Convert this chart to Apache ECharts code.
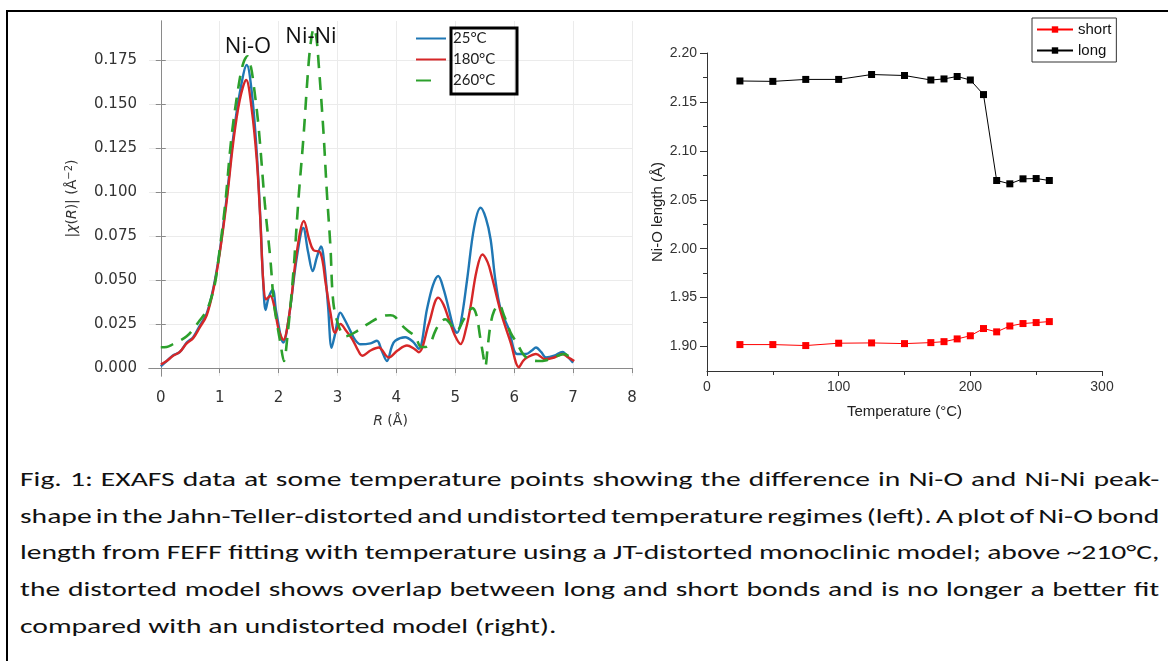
<!DOCTYPE html>
<html>
<head>
<meta charset="utf-8">
<script src="https://cdn.jsdelivr.net/npm/echarts@6/dist/echarts.min.js"></script>
<style>
  html, body { margin: 0; padding: 0; background: #fff; }
  #page { position: relative; width: 1168px; height: 661px; overflow: hidden; }
  #frame { position: absolute; left: 6px; top: 10px; width: 1170px; height: 660px;
    border-top: 2px solid #000; border-left: 2px solid #000; }
  #chart { position: absolute; left: 0; top: 0; width: 1168px; height: 440px; }
  /* caption in the reference is horizontally stretched, so scale it the same way */
  #caption { position: absolute; left: 20px; top: 461px; width: 808px;
    transform: scaleX(1.41); transform-origin: 0 0;
    font-family: Carlito, Lato, sans-serif; font-size: 21px; color: #111; }
  .ln { height: 36.7px; line-height: 36.7px; white-space: nowrap; word-spacing: -4px;
    text-align: justify; text-align-last: justify; }
  .ln.last { text-align-last: left; word-spacing: 0; }
</style>
</head>
<body>
<div id="page">
  <div id="frame"></div>
  <div id="chart"></div>
  <div id="caption">
    <div class="ln">Fig. 1: EXAFS data at some temperature points showing the difference in Ni-O and Ni-Ni peak-</div>
    <div class="ln">shape in the Jahn-Teller-distorted and undistorted temperature regimes (left). A plot of Ni-O bond</div>
    <div class="ln">length from FEFF fitting with temperature using a JT-distorted monoclinic model; above ~210°C,</div>
    <div class="ln">the distorted model shows overlap between long and short bonds and is no longer a better fit</div>
    <div class="ln last">compared with an undistorted model (right).</div>
  </div>
</div>
<script>
// Left panel: |chi(R)| vs R, one [R, value] pair per point
const chi25 = [
  [0, 0.001], [0.1, 0.004], [0.2, 0.007], [0.32, 0.009], [0.44, 0.0145], [0.55, 0.0175],
  [0.66, 0.024], [0.78, 0.031], [0.89, 0.045], [1.0, 0.066], [1.12, 0.097], [1.23, 0.131],
  [1.34, 0.156], [1.46, 0.172], [1.55, 0.155], [1.63, 0.122], [1.69, 0.085], [1.74, 0.048],
  [1.78, 0.033], [1.83, 0.040], [1.9, 0.0445], [1.96, 0.032], [2.08, 0.0145], [2.18, 0.030],
  [2.31, 0.063], [2.42, 0.0795], [2.5, 0.066], [2.58, 0.055], [2.65, 0.063], [2.72, 0.069],
  [2.78, 0.058], [2.84, 0.035], [2.9, 0.0115], [2.95, 0.018], [3.05, 0.0315], [3.13, 0.027],
  [3.22, 0.021], [3.3, 0.016], [3.39, 0.0135], [3.56, 0.014], [3.67, 0.0155], [3.75, 0.010],
  [3.84, 0.004], [3.92, 0.012], [3.98, 0.0155], [4.15, 0.0175], [4.28, 0.015], [4.38, 0.011],
  [4.52, 0.0335], [4.62, 0.047], [4.71, 0.0523], [4.8, 0.045], [4.89, 0.0334], [4.97, 0.023],
  [5.03, 0.020], [5.1, 0.027], [5.2, 0.050], [5.32, 0.080], [5.43, 0.091], [5.52, 0.085],
  [5.6, 0.073], [5.68, 0.050], [5.77, 0.0334], [5.91, 0.022], [6.05, 0.008], [6.2, 0.008],
  [6.3, 0.010], [6.37, 0.0117], [6.46, 0.009], [6.54, 0.006], [6.68, 0.007], [6.82, 0.0092],
  [6.92, 0.006], [7.0, 0.003]
];
const chi180 = [
  [0, 0.002], [0.1, 0.004], [0.21, 0.007], [0.32, 0.009], [0.44, 0.014], [0.55, 0.017],
  [0.66, 0.023], [0.78, 0.030], [0.89, 0.044], [1.0, 0.065], [1.12, 0.095], [1.23, 0.128],
  [1.34, 0.152], [1.45, 0.1635], [1.54, 0.148], [1.63, 0.118], [1.69, 0.084], [1.74, 0.049],
  [1.79, 0.039], [1.86, 0.041], [1.92, 0.036], [2.0, 0.022], [2.08, 0.016], [2.18, 0.030],
  [2.31, 0.066], [2.43, 0.0835], [2.52, 0.073], [2.59, 0.067], [2.71, 0.0655], [2.8, 0.048],
  [2.88, 0.0315], [2.96, 0.020], [3.05, 0.025], [3.15, 0.021], [3.25, 0.0165], [3.35, 0.010],
  [3.42, 0.007], [3.56, 0.010], [3.7, 0.0117], [3.87, 0.006], [4.02, 0.010], [4.18, 0.0128],
  [4.3, 0.011], [4.38, 0.009], [4.55, 0.025], [4.71, 0.040], [4.8, 0.036], [4.89, 0.0277],
  [5.0, 0.018], [5.09, 0.0136], [5.18, 0.022], [5.26, 0.035], [5.36, 0.055], [5.46, 0.0645],
  [5.55, 0.060], [5.62, 0.052], [5.77, 0.032], [5.94, 0.0145], [6.08, 0.0005], [6.15, 0.004],
  [6.22, 0.006], [6.37, 0.008], [6.53, 0.005], [6.68, 0.006], [6.82, 0.008], [6.92, 0.006],
  [7.02, 0.004]
];
const chi260 = [
  [0, 0.0118], [0.1, 0.012], [0.21, 0.0136], [0.32, 0.0155], [0.44, 0.018], [0.55, 0.022],
  [0.66, 0.027], [0.75, 0.031], [0.83, 0.037], [0.92, 0.048], [0.98, 0.062], [1.09, 0.092],
  [1.2, 0.131], [1.32, 0.160], [1.4, 0.173], [1.47, 0.177], [1.53, 0.171], [1.58, 0.160],
  [1.66, 0.137], [1.77, 0.092], [1.86, 0.062], [1.92, 0.037], [1.98, 0.024], [2.03, 0.0145],
  [2.09, 0.004], [2.15, 0.018], [2.25, 0.054], [2.34, 0.097], [2.42, 0.13], [2.51, 0.173],
  [2.56, 0.188], [2.6, 0.193], [2.64, 0.188], [2.68, 0.173], [2.76, 0.135], [2.82, 0.0995],
  [2.88, 0.069], [2.93, 0.037], [3.02, 0.024], [3.13, 0.018], [3.23, 0.019], [3.33, 0.021],
  [3.56, 0.026], [3.78, 0.0296], [3.9, 0.030], [3.98, 0.029], [4.07, 0.025], [4.2, 0.021],
  [4.32, 0.018], [4.42, 0.012], [4.5, 0.012], [4.58, 0.0145], [4.66, 0.021], [4.75, 0.026],
  [4.83, 0.0277], [4.92, 0.025], [5.02, 0.021], [5.15, 0.028], [5.29, 0.034], [5.36, 0.030],
  [5.42, 0.018], [5.47, 0.008], [5.51, 0.001], [5.55, 0.012], [5.6, 0.025], [5.66, 0.0325],
  [5.74, 0.036], [5.83, 0.0296], [5.94, 0.020], [6.05, 0.014], [6.15, 0.008], [6.25, 0.005],
  [6.4, 0.004], [6.55, 0.0045], [6.7, 0.0065], [6.85, 0.008], [7.0, 0.004]
];
const chiTicks = [0, 0.025, 0.05, 0.075, 0.1, 0.125, 0.15, 0.175];
const rTicks = [0, 1, 2, 3, 4, 5, 6, 7, 8];

// Right panel: Ni-O bond lengths vs temperature
const temps = [25, 50, 75, 100, 125, 150, 170, 180, 190, 200, 210, 220, 230, 240, 250, 260];
const shortBond = [1.902, 1.902, 1.901, 1.9034, 1.9037, 1.903, 1.904, 1.905, 1.9078, 1.911,
  1.9184, 1.915, 1.921, 1.9235, 1.9245, 1.9255];
const longBond = [2.1714, 2.171, 2.173, 2.173, 2.178, 2.177, 2.1724, 2.1735, 2.176, 2.1724,
  2.1575, 2.0697, 2.0663, 2.0714, 2.0717, 2.0697];
const lenTicks = [1.9, 1.95, 2.0, 2.05, 2.1, 2.15, 2.2];
const lenMinorTicks = [1.925, 1.975, 2.025, 2.075, 2.125, 2.175];

const chart = echarts.init(document.getElementById("chart"));

const grey = "#8a8a8a";
const mpl = "DejaVu Sans";
const origin = "Liberation Sans";

const option = {
  animation: false,
  grid: [
    { left: 149, top: 21, width: 483, height: 355 },
    { left: 707, top: 53, width: 395, height: 318 },
  ],
  xAxis: [
    {
      gridIndex: 0, type: "value", min: -0.2, max: 8, position: "bottom",
      name: "{i|R} (Å)", nameLocation: "middle", nameGap: 38,
      nameTextStyle: {
        fontFamily: mpl, fontSize: 14, color: "#333",
        rich: { i: { fontFamily: mpl, fontSize: 14, fontStyle: "italic", color: "#333" } },
      },
      axisLine: { lineStyle: { color: grey, width: 1 } },
      axisTick: { customValues: rTicks, length: 5, lineStyle: { color: grey } },
      axisLabel: { customValues: rTicks, margin: 15, fontFamily: mpl, fontSize: 15, color: "#333" },
      splitLine: { show: true, lineStyle: { color: "#ebebeb", width: 1 } },
    },
    {
      gridIndex: 0, type: "value", min: -0.2, max: 8, position: "top",
      axisLine: { lineStyle: { color: grey, width: 1 } },
      axisTick: { show: false }, axisLabel: { show: false }, splitLine: { show: false },
    },
    {
      gridIndex: 1, type: "value", min: 0, max: 300, interval: 100, position: "bottom",
      name: "Temperature (°C)", nameLocation: "middle", nameGap: 33,
      nameTextStyle: { fontFamily: origin, fontSize: 15, color: "#222" },
      axisLine: { onZero: false, lineStyle: { color: "#333", width: 1 } },
      axisTick: { length: 5, lineStyle: { color: "#333" } },
      minorTick: { show: true, splitNumber: 2, length: 4, lineStyle: { color: "#333" } },
      axisLabel: { margin: 9, fontFamily: origin, fontSize: 14, color: "#333" },
      splitLine: { show: false },
    },
  ],
  yAxis: [
    {
      gridIndex: 0, type: "value", min: -0.0045, max: 0.197, position: "left",
      name: "|{i|χ}({i|R})| (Å{s|−2})", nameLocation: "middle", nameGap: 68, nameRotate: 90,
      nameTextStyle: {
        fontFamily: mpl, fontSize: 14, color: "#333",
        rich: {
          i: { fontFamily: mpl, fontSize: 14, fontStyle: "italic", color: "#333" },
          s: { fontFamily: mpl, fontSize: 10, color: "#333", padding: [0, 0, 7, 0] },
        },
      },
      axisLine: { show: true, lineStyle: { color: grey, width: 1 } },
      axisTick: { show: true, customValues: chiTicks, length: 5, lineStyle: { color: grey } },
      axisLabel: {
        customValues: chiTicks, margin: 12, fontFamily: mpl, fontSize: 15, color: "#333",
        formatter: (v) => v.toFixed(3),
      },
      splitLine: { show: true, lineStyle: { color: "#ebebeb", width: 1 } },
    },
    {
      gridIndex: 0, type: "value", min: -0.0045, max: 0.197, position: "right",
      axisLine: { show: true, lineStyle: { color: grey, width: 1 } },
      axisTick: { show: true, customValues: chiTicks, length: 5, lineStyle: { color: grey } },
      axisLabel: { show: false }, splitLine: { show: false },
    },
    {
      gridIndex: 1, type: "value", min: 1.875, max: 2.2, position: "left",
      name: "Ni-O length (Å)", nameLocation: "middle", nameGap: 41, nameRotate: 90,
      nameTextStyle: { fontFamily: origin, fontSize: 15, color: "#222" },
      axisLine: { show: true, onZero: false, lineStyle: { color: "#333", width: 1 } },
      axisTick: { show: true, customValues: lenTicks, length: 7, lineStyle: { color: "#333" } },
      axisLabel: {
        customValues: lenTicks, margin: 10, fontFamily: origin, fontSize: 14, color: "#333",
        formatter: (v) => v.toFixed(2),
      },
      splitLine: { show: false },
    },
    {
      gridIndex: 1, type: "value", min: 1.875, max: 2.2, position: "left",
      axisLine: { show: false },
      axisTick: { show: true, customValues: lenMinorTicks, length: 4, lineStyle: { color: "#333" } },
      axisLabel: { show: false }, splitLine: { show: false },
    },
  ],
  legend: [
    {
      data: ["25°C", "180°C", { name: "260°C", lineStyle: { type: [15, 40] } }],
      orient: "vertical", left: 415, top: 31, padding: 0,
      itemWidth: 30, itemHeight: 14, itemGap: 6,
      itemStyle: { opacity: 0 },
      textStyle: { fontFamily: "Lato", fontSize: 15, color: "#222", padding: [0, 0, 0, 2] },
    },
    {
      data: ["short", "long"],
      orient: "vertical", left: 1032, top: 18, padding: [4, 5, 4, 4],
      borderColor: "#333", borderWidth: 1,
      itemWidth: 36, itemHeight: 8, itemGap: 6,
      textStyle: { fontFamily: origin, fontSize: 15, color: "#111" },
    },
  ],
  graphic: [
    { type: "rect", shape: { x: 451, y: 28, width: 66, height: 66 },
      style: { fill: "none", stroke: "#000", lineWidth: 3 }, z: 100 },
    { type: "text", x: 248, y: 47, z: 100,
      style: { text: "Ni-O", fontFamily: "Open Sans", fontSize: 22, fill: "#111",
        align: "center", verticalAlign: "middle" } },
    { type: "text", x: 311, y: 37, z: 100,
      style: { text: "Ni-Ni", fontFamily: "Open Sans", fontSize: 22, fill: "#111",
        align: "center", verticalAlign: "middle" } },
  ],
  series: [
    {
      name: "25°C", type: "line", xAxisIndex: 0, yAxisIndex: 0, data: chi25,
      symbol: "none", smooth: 0.35, color: "#1f77b4",
      lineStyle: { width: 2.4, color: "#1f77b4" },
    },
    {
      name: "180°C", type: "line", xAxisIndex: 0, yAxisIndex: 0, data: chi180,
      symbol: "none", smooth: 0.35, color: "#d62728",
      lineStyle: { width: 2.4, color: "#d62728" },
    },
    {
      name: "260°C", type: "line", xAxisIndex: 0, yAxisIndex: 0, data: chi260,
      symbol: "none", smooth: 0.35, color: "#2ca02c",
      lineStyle: { width: 2.6, color: "#2ca02c", type: [13, 9] },
    },
    {
      name: "short", type: "line", xAxisIndex: 2, yAxisIndex: 2,
      data: temps.map((t, i) => [t, shortBond[i]]),
      symbol: "rect", symbolSize: 7, color: "#ff0000",
      lineStyle: { width: 1, color: "#ff0000" }, itemStyle: { color: "#ff0000" },
    },
    {
      name: "long", type: "line", xAxisIndex: 2, yAxisIndex: 2,
      data: temps.map((t, i) => [t, longBond[i]]),
      symbol: "rect", symbolSize: 7, color: "#000",
      lineStyle: { width: 1, color: "#000" }, itemStyle: { color: "#000" },
    },
  ],
};

chart.setOption(option);
</script>
</body>
</html>
